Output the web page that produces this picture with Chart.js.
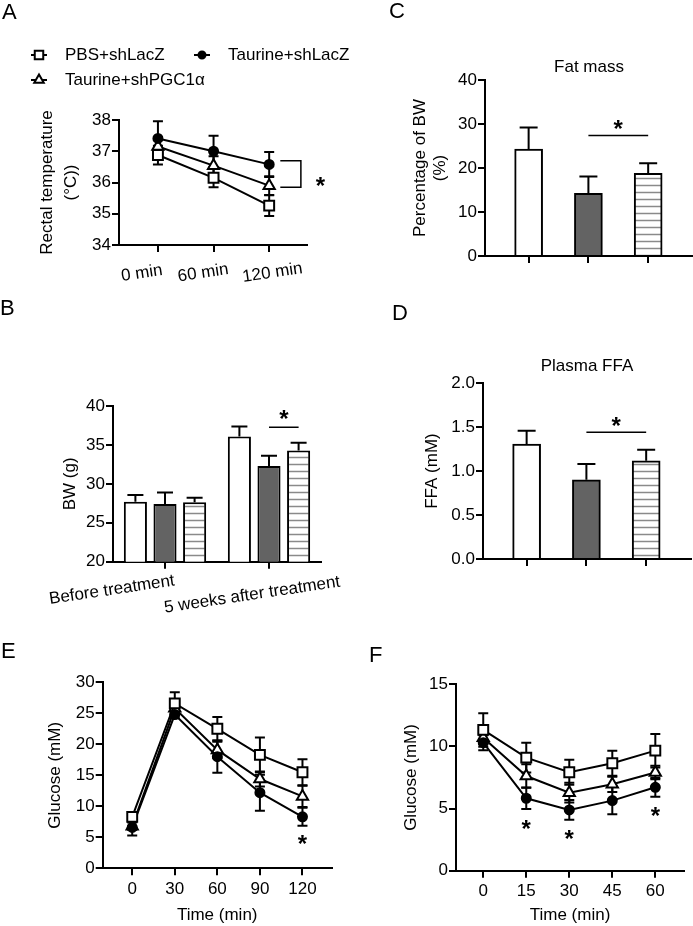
<!DOCTYPE html>
<html>
<head>
<meta charset="utf-8">
<script src="https://cdn.jsdelivr.net/npm/chart.js@4.4.1/dist/chart.umd.min.js"></script>
<style>
    html, body { margin: 0; padding: 0; background: #fff; }
    #fig { position: relative; width: 693px; height: 926px; overflow: hidden; background: #fff; font-family: 'Liberation Sans', Arial, sans-serif; }
    #fig canvas { position: absolute; }
    .tag { position: absolute; font-size: 22px; line-height: 1; color: #000; }
</style>
</head>
<body>
<div id="fig">
    <canvas id="chartA" width="360" height="300" style="left:0;top:0"></canvas>
    <canvas id="chartC" width="343" height="300" style="left:350px;top:0"></canvas>
    <canvas id="chartB" width="400" height="320" style="left:0;top:300px"></canvas>
    <canvas id="chartD" width="343" height="300" style="left:350px;top:300px"></canvas>
    <canvas id="chartE" width="350" height="326" style="left:0;top:600px"></canvas>
    <canvas id="chartF" width="343" height="326" style="left:350px;top:600px"></canvas>
    <div class="tag" style="left:2px;top:1px">A</div>
    <div class="tag" style="left:389px;top:0">C</div>
    <div class="tag" style="left:0;top:297px">B</div>
    <div class="tag" style="left:392px;top:302px">D</div>
    <div class="tag" style="left:1px;top:640px">E</div>
    <div class="tag" style="left:369px;top:644px">F</div>
</div>
<script>
// group names
const groups = ['PBS+shLacZ', 'Taurine+shLacZ', 'Taurine+shPGC1α'];

// A - rectal temperature
const tempTimes = ['0 min', '60 min', '120 min'];
const tempTicks = [34, 35, 36, 37, 38];
const tempPBS = [36.88, 36.15, 35.26];
const tempPBSErr = [0.3, 0.3, 0.33];
const tempTau = [37.41, 37.0, 36.58];
const tempTauErr = [0.55, 0.5, 0.4];
const tempPGC = [37.15, 36.54, 35.9];
const tempPGCErr = [0.25, 0.3, 0.3];

// B - body weight
const bwGroups = ['Before treatment', '5 weeks after treatment'];
const bwTicks = [20, 25, 30, 35, 40];
const bwPBS = [27.7, 36.07];
const bwPBSErr = [0.86, 1.3];
const bwTau = [27.4, 32.3];
const bwTauErr = [1.5, 1.3];
const bwPGC = [27.63, 34.27];
const bwPGCErr = [0.6, 1.0];

// C - fat mass
const fatTicks = [0, 10, 20, 30, 40];
const fatMass = [24.3, 14.25, 18.8];
const fatErr = [4.9, 3.8, 2.3];

// D - plasma FFA
const ffaTicks = [0, 0.5, 1.0, 1.5, 2.0];
const ffa = [1.306, 0.9, 1.116];
const ffaErr = [0.15, 0.18, 0.125];

// E - GTT
const gttTimes = [0, 30, 60, 90, 120];
const gttTicks = [0, 5, 10, 15, 20, 25, 30];
const gttPBS = [8.3, 26.6, 22.5, 18.3, 15.5];
const gttPBSErr = [0.5, 1.8, 1.9, 2.8, 2.1];
const gttTau = [6.6, 24.8, 18.0, 12.2, 8.3];
const gttTauErr = [1.3, 0.6, 2.6, 2.9, 1.45];
const gttPGC = [6.8, 25.8, 19.1, 14.4, 11.6];
const gttPGCErr = [0.6, 0.8, 1.3, 1.2, 1.7];

// F - ITT
const ittTimes = [0, 15, 30, 45, 60];
const ittTicks = [0, 5, 10, 15];
const ittPBS = [11.33, 9.1, 7.92, 8.65, 9.66];
const ittPBSErr = [1.35, 1.2, 1.0, 1.0, 1.35];
const ittTau = [10.3, 5.83, 4.89, 5.64, 6.71];
const ittTauErr = [0.6, 0.86, 0.8, 1.1, 0.75];
const ittPGC = [10.7, 7.62, 6.28, 6.95, 7.9];
const ittPGCErr = [0.5, 0.95, 0.8, 0.62, 0.55];

const FONT = "'Liberation Sans', Arial, sans-serif";
Chart.defaults.font.family = FONT;
Chart.defaults.font.size = 17;
Chart.defaults.color = '#000';

const DARK = '#636363';

function makeHatch() {
    const c = document.createElement('canvas');
    c.width = 8; c.height = 7;
    const g = c.getContext('2d');
    g.fillStyle = '#fff';
    g.fillRect(0, 0, 8, 7);
    g.strokeStyle = '#8a8a8a';
    g.lineWidth = 1.5;
    g.beginPath(); g.moveTo(0, 3.5); g.lineTo(8, 3.5); g.stroke();
    return g.createPattern(c, 'repeat');
}
const HATCH = makeHatch();

// padding so the chart area lands where we want it
function place(W, H, area, yW, xH) {
    return { left: area[0] - yW, top: area[1], right: W - area[2], bottom: H - area[3] - xH };
}

function yAxis(ticks, width, title, titleX, lh, digits) {
    return {
        min: ticks[0], max: ticks[ticks.length - 1],
        afterFit: s => { s.width = width; },
        afterBuildTicks: s => { s.ticks = ticks.map(v => ({ value: v })); },
        border: { color: '#000', width: 2 },
        grid: { drawOnChartArea: false, color: '#000', lineWidth: 2, tickLength: 7 },
        ticks: { color: '#000', padding: 1, font: { size: 17 }, callback: v => digits ? Number(v).toFixed(digits) : String(v) },
        title: { display: true, text: title, color: '#000', font: { size: 17, lineHeight: lh + 'px' }, padding: { top: titleX - lh / 2, bottom: 0 } }
    };
}

function xAxis(min, max, ticks, height, extra) {
    return Object.assign({
        type: 'linear', min, max, offset: false,
        afterFit: s => { s.height = height; },
        afterBuildTicks: s => { s.ticks = ticks.map(v => ({ value: v })); },
        border: { color: '#000', width: 2 },
        grid: { drawOnChartArea: false, offset: false, color: '#000', lineWidth: 2, tickLength: 7 },
        ticks: { display: false }
    }, extra || {});
}

function lineSet(label, xs, ys, err, style, r, fill) {
    return {
        label, data: xs.map((x, i) => ({ x, y: ys[i] })), errors: err, capHalf: 5,
        borderColor: '#000', borderWidth: 2, tension: 0, fill: false,
        pointStyle: style, pointRadius: r, pointBackgroundColor: fill,
        pointBorderColor: '#000', pointBorderWidth: 2
    };
}

function drawErrors(chart, kind) {
    const ctx = chart.ctx, ys = chart.scales.y;
    chart.data.datasets.forEach((ds, di) => {
        if (!ds.errors) return;
        const meta = chart.getDatasetMeta(di);
        if (meta.type !== kind) return;
        ctx.save();
        ctx.strokeStyle = '#000';
        ctx.lineWidth = 2;
        meta.data.forEach((el, i) => {
            const raw = ds.data[i];
            const v = typeof raw === 'object' ? raw.y : raw;
            const e = Array.isArray(ds.errors) ? ds.errors[i] : 0;
            const top = ys.getPixelForValue(v + e);
            const bot = kind === 'bar' ? el.y : ys.getPixelForValue(v - e);
            const h = ds.capHalf;
            ctx.beginPath();
            ctx.moveTo(el.x, top); ctx.lineTo(el.x, bot);
            ctx.moveTo(el.x - h, top); ctx.lineTo(el.x + h, top);
            if (kind === 'line') { ctx.moveTo(el.x - h, bot); ctx.lineTo(el.x + h, bot); }
            ctx.stroke();
        });
        ctx.restore();
    });
}

const errorBars = {
    id: 'errorBars',
    beforeDatasetsDraw(chart) { drawErrors(chart, 'line'); },
    afterDatasetsDraw(chart) { drawErrors(chart, 'bar'); }
};

function drawMarker(ctx, style, x, y, r, fill) {
    ctx.beginPath();
    if (style === 'rect') {
        const s = r * Math.SQRT1_2;
        ctx.rect(x - s, y - s, 2 * s, 2 * s);
    } else if (style === 'triangle') {
        for (let k = 0; k < 3; k++) {
            const a = k * 2 * Math.PI / 3;
            const px = x + Math.sin(a) * r, py = y - Math.cos(a) * r;
            if (k) ctx.lineTo(px, py); else ctx.moveTo(px, py);
        }
        ctx.closePath();
    } else {
        ctx.arc(x, y, r, 0, Math.PI * 2);
    }
    ctx.fillStyle = fill;
    ctx.fill();
    ctx.lineWidth = 2;
    ctx.strokeStyle = '#000';
    ctx.stroke();
}

function star(ctx, x, y) {
    ctx.font = 'bold 24px ' + FONT;
    ctx.textAlign = 'center';
    ctx.textBaseline = 'alphabetic';
    ctx.fillStyle = '#000';
    ctx.fillText('*', x, y + 13.5);
}

function xOf(chart, ref) {
    if (Array.isArray(ref)) return chart.getDatasetMeta(ref[0]).data[ref[1]].x;
    return chart.scales.x.getPixelForValue(ref);
}

// legend, titles, rotated labels, significance marks
function decor(cfg) {
    return {
        id: 'decor',
        afterDraw(chart) {
            const ctx = chart.ctx, ys = chart.scales.y, area = chart.chartArea;
            ctx.save();
            ctx.font = '17px ' + FONT;
            (cfg.legend || []).forEach(it => {
                const ds = chart.data.datasets[it.ds];
                ctx.strokeStyle = '#000';
                ctx.lineWidth = 2;
                if (it.kind === 'line') {
                    ctx.beginPath(); ctx.moveTo(it.x, it.y); ctx.lineTo(it.x + 16, it.y); ctx.stroke();
                    drawMarker(ctx, ds.pointStyle, it.x + 8, it.y, ds.pointRadius - 1, ds.pointBackgroundColor);
                } else {
                    const bg = Array.isArray(ds.backgroundColor) ? ds.backgroundColor[0] : ds.backgroundColor;
                    ctx.fillStyle = bg;
                    ctx.fillRect(it.x, it.y - 4.5, 21, 9);
                    ctx.strokeRect(it.x, it.y - 4.5, 21, 9);
                }
                ctx.font = '17px ' + FONT;
                ctx.fillStyle = '#000';
                ctx.textAlign = 'left';
                ctx.textBaseline = 'middle';
                ctx.fillText(ds.label, it.x + 34, it.y);
            });
            if (cfg.title) {
                ctx.font = '17px ' + FONT;
                ctx.fillStyle = '#000';
                ctx.textAlign = 'center';
                ctx.textBaseline = 'alphabetic';
                ctx.fillText(cfg.title.text, (area.left + area.right) / 2, cfg.title.y);
            }
            if (cfg.xLabels) {
                const L = cfg.xLabels;
                ctx.font = '17px ' + FONT;
                ctx.fillStyle = '#000';
                ctx.textAlign = 'left';
                ctx.textBaseline = 'alphabetic';
                L.texts.forEach((t, i) => {
                    const px = chart.scales.x.getPixelForValue(L.at[i]) + L.dx[i];
                    const py = area.bottom + L.dy[i];
                    ctx.save();
                    ctx.translate(px, py);
                    ctx.rotate(-L.angle * Math.PI / 180);
                    ctx.fillText(t, 0, 0);
                    ctx.restore();
                });
            }
            (cfg.sig || []).forEach(s => {
                const x0 = xOf(chart, s.from), x1 = xOf(chart, s.to), y = ys.getPixelForValue(s.y);
                ctx.strokeStyle = '#000';
                ctx.lineWidth = 1.5;
                ctx.beginPath(); ctx.moveTo(x0, y); ctx.lineTo(x1, y); ctx.stroke();
                star(ctx, (x0 + x1) / 2, ys.getPixelForValue(s.star));
            });
            if (cfg.bracket) {
                const b = cfg.bracket;
                const x0 = xOf(chart, b.x0), x1 = xOf(chart, b.x1);
                const y0 = ys.getPixelForValue(b.y0), y1 = ys.getPixelForValue(b.y1);
                ctx.strokeStyle = '#000';
                ctx.lineWidth = 1.5;
                ctx.beginPath();
                ctx.moveTo(x0, y0); ctx.lineTo(x1, y0); ctx.lineTo(x1, y1); ctx.lineTo(x0, y1);
                ctx.stroke();
            }
            (cfg.stars || []).forEach(s => star(ctx, xOf(chart, s.x), ys.getPixelForValue(s.y)));
            ctx.restore();
        }
    };
}

const baseOpts = {
    responsive: false,
    animation: false,
    plugins: { legend: { display: false }, tooltip: { enabled: false } }
};

// A
new Chart(document.getElementById('chartA'), {
    type: 'line',
    data: {
        datasets: [
            lineSet(groups[0], [0, 1, 2], tempPBS, tempPBSErr, 'rect', 7, '#fff'),
            lineSet(groups[1], [0, 1, 2], tempTau, tempTauErr, 'circle', 4.5, '#000'),
            lineSet(groups[2], [0, 1, 2], tempPGC, tempPGCErr, 'triangle', 6.5, '#fff')
        ]
    },
    options: Object.assign({}, baseOpts, {
        layout: { padding: place(360, 300, [119, 120, 307, 245], 119, 30) },
        scales: {
            x: xAxis(-0.7, 2.68, [0, 1, 2], 30),
            y: yAxis(tempTicks, 119, ['Rectal temperature', '(°C))'], 47, 24.5, 0)
        }
    }),
    plugins: [errorBars, decor({
        legend: [
            { kind: 'line', ds: 0, x: 31, y: 55 },
            { kind: 'line', ds: 1, x: 194, y: 55 },
            { kind: 'line', ds: 2, x: 31, y: 80 }
        ],
        xLabels: { texts: tempTimes, at: [0, 1, 2], dx: [-36, -35, -26], dy: [36, 36.5, 37], angle: 8.5 },
        bracket: { x0: 2.2, x1: 2.57, y0: 36.7, y1: 35.85 },
        stars: [{ x: 2.92, y: 36.08 }]
    })]
});

// B
new Chart(document.getElementById('chartB'), {
    type: 'bar',
    data: {
        labels: bwGroups,
        datasets: [bwPBS, bwTau, bwPGC].map((vals, i) => ({
            label: groups[i], data: vals, errors: [bwPBSErr, bwTauErr, bwPGCErr][i], capHalf: 8,
            backgroundColor: ['#fff', DARK, HATCH][i], borderColor: '#000', borderWidth: 2,
            categoryPercentage: 0.854, barPercentage: 0.78
        }))
    },
    options: Object.assign({}, baseOpts, {
        layout: { padding: place(400, 320, [113, 106, 321, 261.7], 113, 30) },
        scales: {
            x: {
                type: 'category', offset: true,
                afterFit: s => { s.height = 30; },
                border: { color: '#000', width: 2 },
                grid: { drawOnChartArea: false, offset: false, color: '#000', lineWidth: 2, tickLength: 7 },
                ticks: { display: false }
            },
            y: yAxis(bwTicks, 113, 'BW (g)', 70, 20, 0)
        }
    }),
    plugins: [errorBars, decor({
        legend: [
            { kind: 'box', ds: 0, x: 48, y: 341 },
            { kind: 'box', ds: 1, x: 207, y: 341 },
            { kind: 'box', ds: 2, x: 48, y: 366 }
        ],
        xLabels: { texts: bwGroups, at: [0, 1], dx: [-115, -104], dy: [42.3, 51], angle: 8.5 },
        sig: [{ from: [1, 1], to: [2, 1], y: 37.27, star: 38.98 }]
    })]
});

// C and D share the same layout
function barPanel(id, vals, errs, ticks, area, yTitle, titleX, digits, heading, sigY, starY) {
    return new Chart(document.getElementById(id), {
        type: 'bar',
        data: {
            datasets: [{
                label: heading, data: vals.map((v, i) => ({ x: i, y: v })), errors: errs, capHalf: 9,
                backgroundColor: ['#fff', DARK, HATCH], borderColor: '#000', borderWidth: 2,
                barThickness: 28
            }]
        },
        options: Object.assign({}, baseOpts, {
            layout: { padding: place(343, 300, area, area[0], 30) },
            scales: {
                x: xAxis(-0.73, 2.75, [0, 1, 2], 30),
                y: yAxis(ticks, area[0], yTitle, titleX, 20, digits)
            }
        }),
        plugins: [errorBars, decor({
            title: { text: heading, y: area[1] - (heading === 'Fat mass' ? 8 : 12) },
            sig: [{ from: [0, 1], to: [0, 2], y: sigY, star: starY }]
        })]
    });
}

barPanel('chartC', fatMass, fatErr, fatTicks, [135, 80, 343, 256], ['Percentage of BW', '(%)'], 70.7, 0, 'Fat mass', 27.4, 30.2);
barPanel('chartD', ffa, ffaErr, ffaTicks, [133, 83, 341, 259], 'FFA (mM)', 82, 1, 'Plasma FFA', 1.44, 1.575);

// E
new Chart(document.getElementById('chartE'), {
    type: 'line',
    data: {
        datasets: [
            lineSet(groups[0], gttTimes, gttPBS, gttPBSErr, 'rect', 7, '#fff'),
            lineSet(groups[1], gttTimes, gttTau, gttTauErr, 'circle', 4.5, '#000'),
            lineSet(groups[2], gttTimes, gttPGC, gttPGCErr, 'triangle', 6.5, '#fff')
        ]
    },
    options: Object.assign({}, baseOpts, {
        layout: { padding: place(350, 326, [102.7, 82.3, 331.7, 268.3], 102.7, 57.7) },
        scales: {
            x: xAxis(-20.8, 140.6, gttTimes, 57.7, {
                ticks: { display: true, padding: 3.5, color: '#000', font: { size: 17 } },
                title: { display: true, text: 'Time (min)', color: '#000', font: { size: 17, lineHeight: '20px' }, padding: { top: 0, bottom: 1 } }
            }),
            y: yAxis(gttTicks, 102.7, 'Glucose (mM)', 55, 20, 0)
        }
    }),
    plugins: [errorBars, decor({ stars: [{ x: 120, y: 4.84 }] })]
});

// F
new Chart(document.getElementById('chartF'), {
    type: 'line',
    data: {
        datasets: [
            lineSet(groups[0], ittTimes, ittPBS, ittPBSErr, 'rect', 7, '#fff'),
            lineSet(groups[1], ittTimes, ittTau, ittTauErr, 'circle', 4.5, '#000'),
            lineSet(groups[2], ittTimes, ittPGC, ittPGCErr, 'triangle', 6.5, '#fff')
        ]
    },
    options: Object.assign({}, baseOpts, {
        layout: { padding: place(343, 326, [106, 84.3, 334.3, 270.7], 106, 55.3) },
        scales: {
            x: xAxis(-9.5, 70, ittTimes, 55.3, {
                ticks: { display: true, padding: 3, color: '#000', font: { size: 17 } },
                title: { display: true, text: 'Time (min)', color: '#000', font: { size: 17, lineHeight: '20px' }, padding: { top: 0, bottom: 1 } }
            }),
            y: yAxis(ittTicks, 106, 'Glucose (mM)', 61.7, 20, 0)
        }
    }),
    plugins: [errorBars, decor({ stars: [{ x: 15, y: 3.76 }, { x: 30, y: 3.01 }, { x: 60, y: 4.83 }] })]
});
</script>
</body>
</html>
